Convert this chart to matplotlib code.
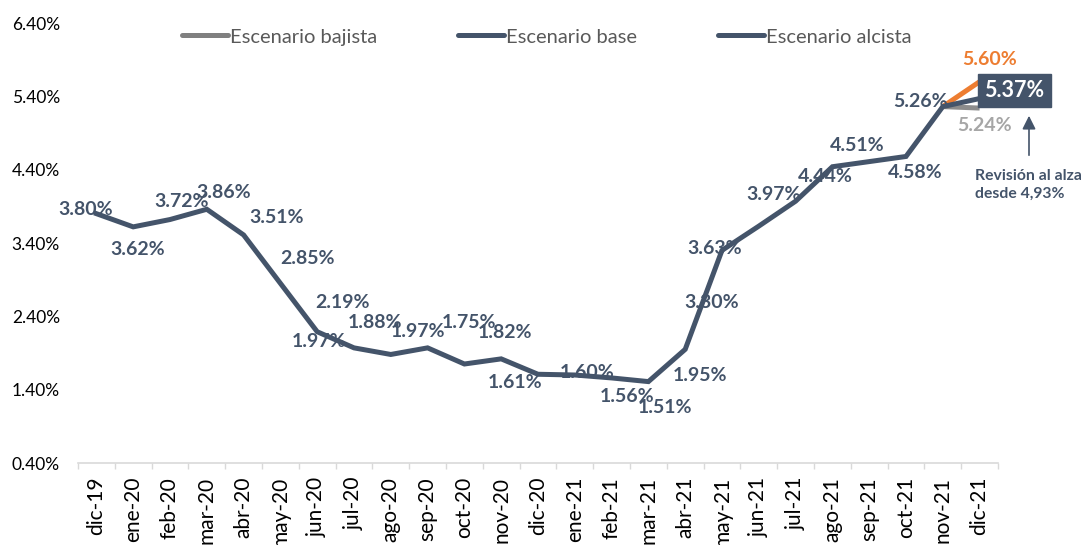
import matplotlib
matplotlib.use("Agg")
import matplotlib.pyplot as plt
from matplotlib.lines import Line2D
import numpy as np

# ---------------- data ----------------
months = ["dic-19", "ene-20", "feb-20", "mar-20", "abr-20", "may-20", "jun-20",
          "jul-20", "ago-20", "sep-20", "oct-20", "nov-20", "dic-20", "ene-21",
          "feb-21", "mar-21", "abr-21", "may-21", "jun-21", "jul-21", "ago-21",
          "sep-21", "oct-21", "nov-21", "dic-21"]
base = [3.80, 3.62, 3.72, 3.86, 3.51, 2.85, 2.19, 1.97, 1.88, 1.97, 1.75, 1.82,
        1.61, 1.60, 1.56, 1.51, 1.95, 3.30, 3.63, 3.97, 4.44, 4.51, 4.58, 5.26, 5.37]
bajista = [np.nan] * 23 + [5.26, 5.24]
alcista = [np.nan] * 23 + [5.26, 5.60]
yticks = [0.40, 1.40, 2.40, 3.40, 4.40, 5.40, 6.40]
legend_labels = ["Escenario bajista", "Escenario base", "Escenario alcista"]
note = "Revisión al alza\ndesde 4,93%"

# label offsets (pixels, dx right, dy down) -- styling only
label_off = [(-11, -4), (4, 23), (12, -18), (17, -17), (33, -17), (27, -25),
             (25, -29), (-35, -6), (-16, -32), (-10, -16), (5, -41), (4, -26),
             (-23, 8), (12, -3), (15, 19), (17, 26), (15, 26), (-10, 52),
             (-44, 22), (-22, -7), (-7, 10), (-12, -16), (9, 16), (-22, -5)]

SLATE = "#44546A"
ORANGE = "#ED7D31"
GRAY_LINE = "#8C8C8C"
GRAY_LABEL = "#A6A6A6"
AXIS_GRAY = "#D9D9D9"

plt.rcParams["font.family"] = ["Lato", "DejaVu Sans"]

fig = plt.figure(figsize=(10.84, 5.45), dpi=100)
ax = fig.add_axes([78 / 1084, 1 - 463 / 545, 920 / 1084, 440 / 545])

x = np.arange(len(months))
ax.plot(x, bajista, color=GRAY_LINE, lw=3.6, solid_capstyle="butt", zorder=2)
ax.plot(x, alcista, color=ORANGE, lw=3.6, solid_capstyle="butt", zorder=2)
ax.plot(x, base, color=SLATE, lw=3.6, solid_joinstyle="miter", zorder=3)

ax.set_xlim(-0.5, len(months) - 0.5)
ax.set_ylim(0.40, 6.40)
ax.set_yticks(yticks)
ax.set_yticklabels([f"{v:.2f}%" for v in yticks], fontsize=12.5, color="#000000")
ax.set_xticks(x)
ax.set_xticklabels(months, rotation=90, fontsize=15, color="#000000")
ax.set_xticks(np.arange(-0.5, len(months), 1.0), minor=True)
ax.tick_params(axis="y", length=0, pad=13)
ax.tick_params(axis="x", which="major", length=0, pad=10)
ax.tick_params(axis="x", which="minor", length=4, color=AXIS_GRAY, width=1)
for s in ["top", "right", "left"]:
    ax.spines[s].set_visible(False)
ax.spines["bottom"].set_color(AXIS_GRAY)
ax.spines["bottom"].set_linewidth(1.2)
for lbl in ax.get_yticklabels():
    lbl.set_horizontalalignment("right")

# data labels
for i, (dx, dy) in enumerate(label_off):
    ax.annotate(f"{base[i]:.2f}%", (x[i], base[i]), xytext=(dx, -dy),
                textcoords="offset pixels", ha="center", va="center",
                fontsize=14, fontweight="bold", color=SLATE, zorder=5)

last = len(months) - 1
ax.annotate(f"{alcista[last]:.2f}%", (x[last], alcista[last]), xytext=(10, 22),
            textcoords="offset pixels", ha="center", va="center",
            fontsize=14, fontweight="bold", color=ORANGE, zorder=5,
            annotation_clip=False)
ax.annotate(f"{bajista[last]:.2f}%", (x[last], bajista[last]), xytext=(5, -17),
            textcoords="offset pixels", ha="center", va="center",
            fontsize=14, fontweight="bold", color=GRAY_LABEL, zorder=5,
            annotation_clip=False)
ax.annotate(f"{base[last]:.2f}%", (x[last], base[last]), xytext=(35, 8),
            textcoords="offset pixels", ha="center", va="center",
            fontsize=15.5, fontweight="bold", color="white", zorder=6,
            annotation_clip=False,
            bbox=dict(boxstyle="square,pad=0.3", fc=SLATE, ec=SLATE))

# arrow + note
fig.add_artist(matplotlib.patches.FancyArrowPatch(
    (1029, 545 - 158), (1029, 545 - 113), transform=None,
    arrowstyle="-|>,head_length=8,head_width=4", color=SLATE, lw=1.2,
    mutation_scale=1))
fig.text(975 / 1084, 1 - 185 / 545, note, ha="left", va="center",
         fontsize=11.3, fontweight="bold", color=SLATE, linespacing=1.4)

# legend
handles = [Line2D([0], [0], color="#808080", lw=3.6, solid_capstyle="round"),
           Line2D([0], [0], color=SLATE, lw=3.6, solid_capstyle="round"),
           Line2D([0], [0], color=SLATE, lw=3.6, solid_capstyle="round")]
fig.legend(handles, legend_labels, ncol=3, loc="center",
           bbox_to_anchor=(547 / 1084, 1 - 37 / 545), frameon=False,
           fontsize=14.5, labelcolor="#595959", handlelength=2.3,
           handletextpad=0.1, columnspacing=4.0, borderpad=0)

fig.savefig("out.png", dpi=100)
